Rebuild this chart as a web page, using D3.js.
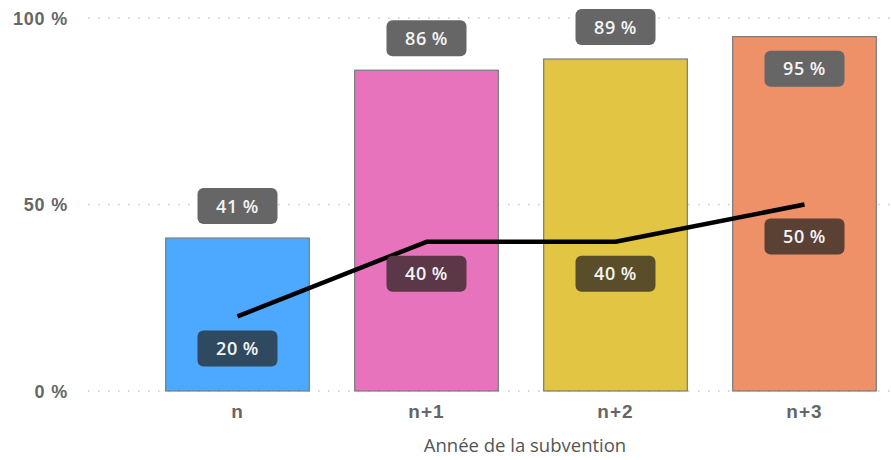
<!DOCTYPE html>
<html><head><meta charset="utf-8">
<script src="https://cdn.jsdelivr.net/npm/d3@7"></script>
<style>
html,body{margin:0;padding:0;background:#fff;}
svg{display:block;font-family:"Open Sans","Segoe UI",sans-serif;}
</style></head>
<body><svg id="chart" width="891" height="460"></svg>
<script>
const categories = ["n","n+1","n+2","n+3"];
const barValues = [41,86,89,95];
const lineValues = [20,40,40,50];
const barColors = ["#4da8ff","#e873bd","#e2c542","#ee9168"];
const lineLabelColors = ["#2f4a60","#5b3747","#5a4e2a","#5b4034"];
const yTicks = [0,50,100];
const xTitle = "Année de la subvention";

const svg = d3.select("#chart");
const x = d3.scaleBand().domain(categories).range([143,899]).paddingInner(0.24).paddingOuter(0.12);
const y = d3.scaleLinear().domain([0,100]).range([391,18]);

// grid
svg.append("g").selectAll("line").data(yTicks).join("line")
  .attr("x1",88).attr("x2",891).attr("y1",d=>y(d)).attr("y2",d=>y(d))
  .attr("stroke","#c8c8c8").attr("stroke-width",1.5).attr("stroke-dasharray","1.5,8.5");

const yAxis = svg.append("g").attr("transform","translate(68,0)")
  .call(d3.axisLeft(y).tickValues(yTicks).tickSize(0).tickPadding(0).tickFormat(d=>d+" %"));
yAxis.select(".domain").remove();
yAxis.selectAll("text").attr("fill","#666").attr("font-size",18).attr("font-weight","bold")
  .attr("letter-spacing","0.8px").attr("dy","0.34em");

const xAxis = svg.append("g").attr("transform","translate(0,391)")
  .call(d3.axisBottom(x).tickSize(0).tickPadding(14));
xAxis.select(".domain").remove();
xAxis.selectAll("text").attr("fill","#666").attr("font-size",19).attr("font-weight","bold")
  .attr("letter-spacing","1px");

svg.append("text").attr("x",525).attr("y",452)
  .attr("text-anchor","middle").attr("fill","#555").attr("font-size",18.5).text(xTitle);

// bars
svg.append("g").selectAll("rect").data(categories).join("rect")
  .attr("x",d=>x(d)).attr("width",x.bandwidth())
  .attr("y",(d,i)=>y(barValues[i])).attr("height",(d,i)=>y(0)-y(barValues[i]))
  .attr("fill",(d,i)=>barColors[i]).attr("stroke","#7a7a7a").attr("stroke-width",1.2);

// line
const line = d3.line().x((d,i)=>x(categories[i])+x.bandwidth()/2).y(d=>y(d));
svg.append("path").datum(lineValues).attr("d",line).attr("fill","none")
  .attr("stroke","#000").attr("stroke-width",4.5).attr("stroke-linejoin","round");

function label(cx, cy, text, fill){
  const g = svg.append("g");
  g.append("rect").attr("x",cx-40).attr("y",cy-18).attr("width",80).attr("height",36)
    .attr("rx",6).attr("fill",fill);
  g.append("text").attr("x",cx).attr("y",cy).attr("dy","0.36em").attr("text-anchor","middle")
    .attr("fill","#f4f4f4").attr("font-size",18).attr("font-weight",600)
    .attr("letter-spacing","0.5px").text(text);
}
// bar value labels
barValues.forEach((v,i)=>{
  const cx = x(categories[i])+x.bandwidth()/2;
  const top = y(v);
  const cy = top - 32 < 18 ? top + 32 : top - 32;
  label(cx, cy, v+" %", "#666");
});
// line labels
lineValues.forEach((v,i)=>{
  const cx = x(categories[i])+x.bandwidth()/2;
  label(cx, y(v)+32, v+" %", lineLabelColors[i]);
});
</script></body></html>
